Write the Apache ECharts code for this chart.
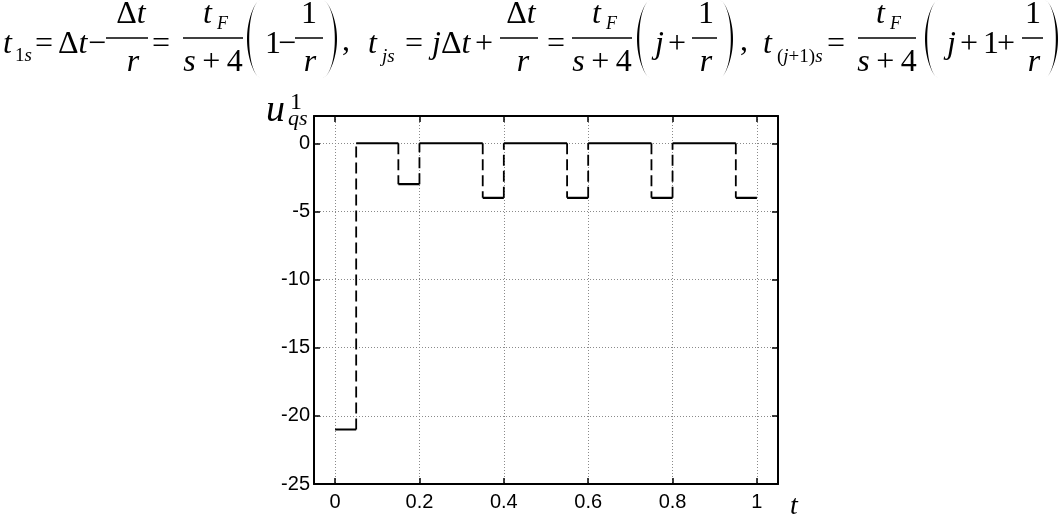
<!DOCTYPE html>
<html><head><meta charset="utf-8">
<script src="https://cdn.jsdelivr.net/npm/echarts@6/dist/echarts.min.js"></script>
<style>html,body{margin:0;padding:0;background:#fff}#c{width:1059px;height:516px}</style>
</head><body><div id="c"></div>
<script>
// ---- data ----
const switchTimes = [0, 0.05, 0.15, 0.2, 0.35, 0.4, 0.55, 0.6, 0.75, 0.8, 0.95, 1.0];
const levels = [-21, 0, -3, 0, -4, 0, -4, 0, -4, 0, -4];
const xTicks = [0, 0.2, 0.4, 0.6, 0.8, 1];
const yTicks = [-25, -20, -15, -10, -5, 0];

const horiz = [];
for (let i = 0; i < levels.length; i++) {
  horiz.push([switchTimes[i], levels[i]], [switchTimes[i + 1], levels[i]], '-');
}
const vert = [];
for (let i = 1; i < levels.length; i++) {
  vert.push([switchTimes[i], levels[i - 1]], [switchTimes[i], levels[i]], '-');
}

// ---- formula helpers ----
const SERIF = '"Liberation Serif", "Times New Roman", "DejaVu Serif", serif';
const SANS = 'Liberation Sans';
const S = 32, SS = 19;
const mctx = document.createElement('canvas').getContext('2d');
function fontOf(it, size) { return (it ? 'italic ' : 'normal ') + 'normal ' + size + 'px ' + SERIF; }
function txt(parts, x, b, size, align) {
  const ws = parts.map(p => { mctx.font = fontOf(p[1], size); return mctx.measureText(p[0]).width; });
  const total = ws.reduce((a, c) => a + c, 0);
  let cx = align === 'center' ? x - total / 2 : x;
  const out = [];
  parts.forEach((p, k) => {
    out.push({
      type: 'text', x: cx, y: b - 0.31 * size, silent: true,
      style: { text: p[0], font: fontOf(p[1], size), fill: '#000', align: 'left', verticalAlign: 'middle' }
    });
    cx += ws[k];
  });
  return out;
}
function bar(x1, x2, y) {
  return { type: 'rect', silent: true, shape: { x: x1, y: y - 0.75, width: x2 - x1, height: 1.5 }, style: { fill: '#000' } };
}
function paren(xl, xr, y0, y1, left) {
  const pts = [], n = 30, th = 2.2, w = xr - xl;
  for (let k = 0; k <= n; k++) {
    const t = k / n, s = Math.pow(Math.sin(Math.PI * t), 0.6), y = y0 + t * (y1 - y0);
    pts.push(left ? [xr - w * s, y] : [xl + w * s, y]);
  }
  for (let k = n; k >= 0; k--) {
    const t = k / n, s = Math.pow(Math.sin(Math.PI * t), 0.6), y = y0 + t * (y1 - y0);
    const ww = w - th * Math.sin(Math.PI * t);
    pts.push(left ? [xr - ww * s, y] : [xl + ww * s, y]);
  }
  return { type: 'polygon', silent: true, shape: { points: pts }, style: { fill: '#000' } };
}
const MB = 55, NB = 25, DB = 73, BY = 38, SB = 63;
const sp4 = [['s', 1], ['\u2009+\u20094', 0]];
const g0 = [
  // formula 1
  txt([['t', 1]], 3, MB, S), txt([['1', 0], ['s', 1]], 15, 62, SS),
  txt([['=', 0]], 35, MB, S), txt([['Δ', 0], ['t', 1]], 58, MB, S), txt([['−', 0]], 88, MB, S),
  bar(106, 148, BY), txt([['Δ', 0], ['t', 1]], 131, NB, S, 'center'), txt([['r', 1]], 133, DB, S, 'center'),
  txt([['=', 0]], 152, MB, S),
  bar(183, 243, BY), txt([['t', 1]], 203, NB, S), txt([['F', 1]], 217, 30, 18), txt(sp4, 213, DB, S, 'center'),
  paren(247, 260, 0, 78, true),
  txt([['1', 0]], 265, MB, S), txt([['−', 0]], 278, MB, S),
  bar(295, 323, BY), txt([['1', 0]], 309, NB, S, 'center'), txt([['r', 1]], 310, DB, S, 'center'),
  paren(323, 337, 0, 78, false), txt([[',', 0]], 342, 52, S),
  // formula 2
  txt([['t', 1]], 368, MB, S), txt([['js', 1]], 382, SB, SS),
  txt([['=', 0]], 405, MB, S), txt([['j', 1], ['Δ', 0], ['t', 1]], 432, MB, S), txt([['+', 0]], 475, MB, S),
  bar(500, 538, BY), txt([['Δ', 0], ['t', 1]], 521, NB, S, 'center'), txt([['r', 1]], 523, DB, S, 'center'),
  txt([['=', 0]], 547, MB, S),
  bar(572, 632, BY), txt([['t', 1]], 592, NB, S), txt([['F', 1]], 606, 30, 18), txt(sp4, 602, DB, S, 'center'),
  paren(637, 650, 0, 78, true),
  txt([['j', 1]], 655, MB, S), txt([['+', 0]], 668, MB, S),
  bar(692, 717, BY), txt([['1', 0]], 706, NB, S, 'center'), txt([['r', 1]], 706, DB, S, 'center'),
  paren(720, 733, 0, 78, false), txt([[',', 0]], 740, 52, S),
  // formula 3
  txt([['t', 1]], 763, MB, S), txt([['(', 0], ['j', 1], ['+1)', 0], ['s', 1]], 777, SB, 19),
  txt([['=', 0]], 827, MB, S),
  bar(858, 916, BY), txt([['t', 1]], 876, NB, S), txt([['F', 1]], 890, 30, 18), txt(sp4, 887, DB, S, 'center'),
  paren(925, 938, 0, 78, true),
  txt([['j', 1]], 947, MB, S), txt([['+', 0]], 960, MB, S), txt([['1', 0]], 983, MB, S), txt([['+', 0]], 997, MB, S),
  bar(1022, 1043, BY), txt([['1', 0]], 1033, NB, S, 'center'), txt([['r', 1]], 1034, DB, S, 'center'),
  paren(1045, 1058, 0, 78, false),
  // axis names
  txt([['u', 1]], 266, 123, 38), txt([['1', 0]], 290, 110, 24), txt([['qs', 1]], 288, 126, 22),
  txt([['t', 1]], 790, 515, 28)
];
const g = [].concat(...g0.map(e => Array.isArray(e) ? e : [e]));

const axisLineStyle = { color: '#000', width: 2 };
const tickStyle = { color: '#000', width: 1.5 };
const chart = echarts.init(document.getElementById('c'));
chart.setOption({
  animation: false,
  backgroundColor: '#fff',
  grid: { left: 314, right: 281, top: 116, bottom: 32, containLabel: false },
  xAxis: [
    { type: 'value', min: -0.05, max: 1.05, position: 'bottom',
      axisLine: { show: true, onZero: false, lineStyle: axisLineStyle },
      axisTick: { show: true, inside: true, length: 6, customValues: xTicks, lineStyle: tickStyle },
      axisLabel: { customValues: xTicks, color: '#000', fontSize: 20, fontFamily: SANS, margin: 8 },
      splitLine: { show: true, lineStyle: { color: '#8a8a8a', type: [1, 2], width: 1 } } },
    { type: 'value', min: -0.05, max: 1.05, position: 'top',
      axisLine: { show: true, onZero: false, lineStyle: axisLineStyle },
      axisTick: { show: true, inside: true, length: 6, customValues: xTicks, lineStyle: tickStyle },
      axisLabel: { show: false }, splitLine: { show: false } }
  ],
  yAxis: [
    { type: 'value', min: -25, max: 2, position: 'left',
      axisLine: { show: true, onZero: false, lineStyle: axisLineStyle },
      axisTick: { show: true, inside: true, length: 6, customValues: yTicks, lineStyle: tickStyle },
      axisLabel: { customValues: yTicks, color: '#000', fontSize: 20, fontFamily: SANS, margin: 4 },
      splitLine: { show: true, lineStyle: { color: '#8a8a8a', type: [1, 2], width: 1 } } },
    { type: 'value', min: -25, max: 2, position: 'right',
      axisLine: { show: true, onZero: false, lineStyle: axisLineStyle },
      axisTick: { show: true, inside: true, length: 6, customValues: yTicks, lineStyle: tickStyle },
      axisLabel: { show: false }, splitLine: { show: false } }
  ],
  series: [
    { type: 'line', xAxisIndex: 0, yAxisIndex: 0, data: horiz, symbol: 'none', connectNulls: false,
      lineStyle: { color: '#000', width: 2.2 }, z: 5 },
    { type: 'line', xAxisIndex: 0, yAxisIndex: 0, data: vert, symbol: 'none', connectNulls: false,
      lineStyle: { color: '#000', width: 1.8, type: [11, 5] }, z: 5 }
  ],
  graphic: { elements: g }
});
</script>
</body></html>
